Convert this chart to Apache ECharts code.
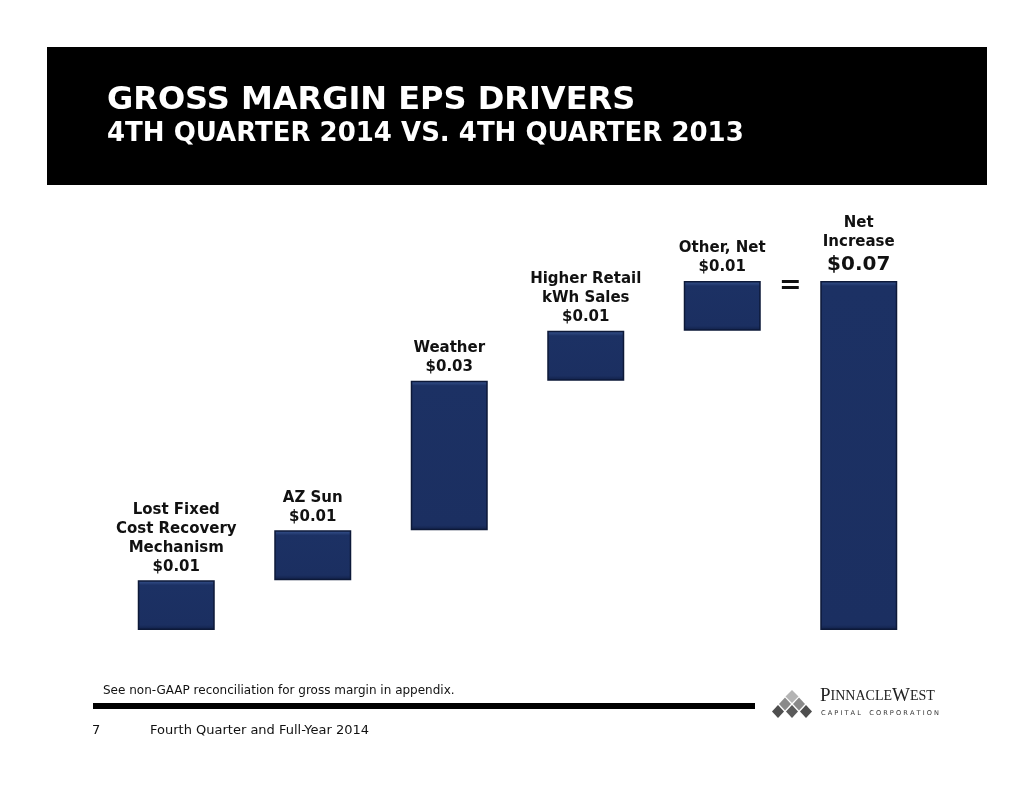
<!DOCTYPE html>
<html lang="en">
<head>
    <meta charset="UTF-8">
    <script type="text/javascript" src="https://cdn.jsdelivr.net/npm/echarts@6.0.0/dist/echarts.min.js"></script>
    <style>
        html, body { margin: 0; padding: 0; background: #fff; }
        #chart { width: 1034px; height: 799px; }
    </style>
</head>
<body>
    <div id="chart"></div>
</body>
<script>
    // drivers of the change, in $ per share
    var categories = ['Lost Fixed\nCost Recovery\nMechanism', 'AZ Sun', 'Weather', 'Higher Retail\nkWh Sales', 'Other, Net', 'Net\nIncrease'];
    var deltas = [0.01, 0.01, 0.03, 0.01, 0.01, 0.07];
    var isTotal = [false, false, false, false, false, true];

    // invisible base of each floating bar (running total before the step)
    var bases = [];
    var running = 0;
    for (var i = 0; i < deltas.length; i++) {
        if (isTotal[i]) {
            bases.push(0);
        } else {
            bases.push(+running.toFixed(2));
            running += deltas[i];
        }
    }

    var FONT = '"DejaVu Sans", Verdana, sans-serif';
    var PLOT_H = 349;   // pixel height of the 0..0.07 range
    var Y_MAX = 0.07;

    // bevel look: thin light top edge, thin dark bottom edge (same px on every bar)
    function bevel(v) {
        var h = v / Y_MAX * PLOT_H;
        var e = Math.min(0.12, 5 / h);
        return {
            color: {
                type: 'linear', x: 0, y: 0, x2: 0, y2: 1,
                colorStops: [
                    { offset: 0, color: '#3a5793' },
                    { offset: e, color: '#1c3164' },
                    { offset: 1 - e, color: '#1b2f61' },
                    { offset: 1, color: '#101f46' }
                ]
            },
            borderColor: '#0d1938',
            borderWidth: 1.5
        };
    }

    var driverData = [];
    for (var j = 0; j < deltas.length; j++) {
        driverData.push({ value: deltas[j], itemStyle: bevel(deltas[j]) });
    }

    var chart = echarts.init(document.getElementById("chart"));

    var option = {
        animation: false,
        backgroundColor: '#ffffff',
        grid: { left: 108, right: 107, top: 281, bottom: 169 },
        xAxis: {
            type: 'category',
            data: categories,
            show: false
        },
        yAxis: {
            type: 'value',
            min: 0,
            max: Y_MAX,
            show: false
        },
        series: [
            {
                name: 'base',
                type: 'bar',
                stack: 'eps',
                barWidth: 77,
                silent: true,
                itemStyle: { color: 'rgba(0,0,0,0)' },
                data: bases
            },
            {
                name: 'driver',
                type: 'bar',
                stack: 'eps',
                barWidth: 77,
                label: {
                    show: true,
                    position: 'top',
                    distance: 4,
                    align: 'center',
                    color: '#111',
                    fontFamily: FONT,
                    fontWeight: 'bold',
                    fontSize: 15,
                    lineHeight: 19,
                    formatter: function (p) {
                        var amt = '$' + p.value.toFixed(2);
                        if (isTotal[p.dataIndex]) {
                            return '{a|' + categories[p.dataIndex].split('\n').join('}\n{a|') + '}\n{b|' + amt + '}';
                        }
                        return categories[p.dataIndex] + '\n' + amt;
                    },
                    rich: {
                        a: { fontFamily: FONT, fontWeight: 'bold', fontSize: 15, lineHeight: 19, color: '#111' },
                        b: { fontFamily: FONT, fontWeight: 'bold', fontSize: 20, lineHeight: 25, color: '#111' }
                    }
                },
                data: driverData
            }
        ],
        graphic: [
            // title band
            { type: 'rect', left: 47, top: 47, shape: { width: 940, height: 138 }, style: { fill: '#000' } },
            { type: 'text', left: 107, top: 85, style: { text: 'GROSS MARGIN EPS DRIVERS', fill: '#fff', font: 'bold 32px ' + FONT } },
            { type: 'text', left: 107, top: 121, style: { text: '4TH QUARTER 2014 VS. 4TH QUARTER 2013', fill: '#fff', font: 'bold 26px ' + FONT } },
            // equals sign between the drivers and the total
            { type: 'text', left: 779, top: 272, style: { text: '=', fill: '#111', font: 'bold 27px ' + FONT } },
            // footer
            { type: 'text', left: 103, top: 685, style: { text: 'See non-GAAP reconciliation for gross margin in appendix.', fill: '#111', font: '12px ' + FONT } },
            { type: 'rect', left: 93, top: 703, shape: { width: 662, height: 6 }, style: { fill: '#000' } },
            { type: 'text', left: 92, top: 724, style: { text: '7', fill: '#111', font: '13px ' + FONT } },
            { type: 'text', left: 150, top: 724, style: { text: 'Fourth Quarter and Full-Year 2014', fill: '#111', font: '13px ' + FONT } },
            // logo diamonds
            {
                type: 'group', left: 772, top: 690,
                children: [
                    { type: 'polygon', shape: { points: [[21, 0], [27.5, 6.5], [21, 13], [14.5, 6.5]] }, style: { fill: '#b4b4b4' } },
                    { type: 'polygon', shape: { points: [[14, 7.5], [20, 14], [14, 20.5], [8, 14]] }, style: { fill: '#8a8a8a' } },
                    { type: 'polygon', shape: { points: [[28, 7.5], [34, 14], [28, 20.5], [22, 14]] }, style: { fill: '#8a8a8a' } },
                    { type: 'polygon', shape: { points: [[7, 15], [13, 21.5], [7, 28], [1, 21.5]] }, style: { fill: '#4e4e4e' } },
                    { type: 'polygon', shape: { points: [[21, 15], [27, 21.5], [21, 28], [15, 21.5]] }, style: { fill: '#5a5a5a' } },
                    { type: 'polygon', shape: { points: [[35, 15], [41, 21.5], [35, 28], [29, 21.5]] }, style: { fill: '#4e4e4e' } }
                ]
            },
            {
                type: 'text', left: 820, top: 687,
                style: {
                    text: '{L|P}{s|INNACLE}{L|W}{s|EST}',
                    fill: '#222',
                    rich: {
                        L: { font: '19px "Liberation Serif", serif', fill: '#222' },
                        s: { font: '14px "Liberation Serif", serif', fill: '#222' }
                    }
                }
            },
            { type: 'text', left: 821, top: 710, style: { text: 'C A P I T A L    C O R P O R A T I O N', fill: '#333', font: '6.6px ' + FONT } }
        ]
    };

    chart.setOption(option);
</script>
</html>
